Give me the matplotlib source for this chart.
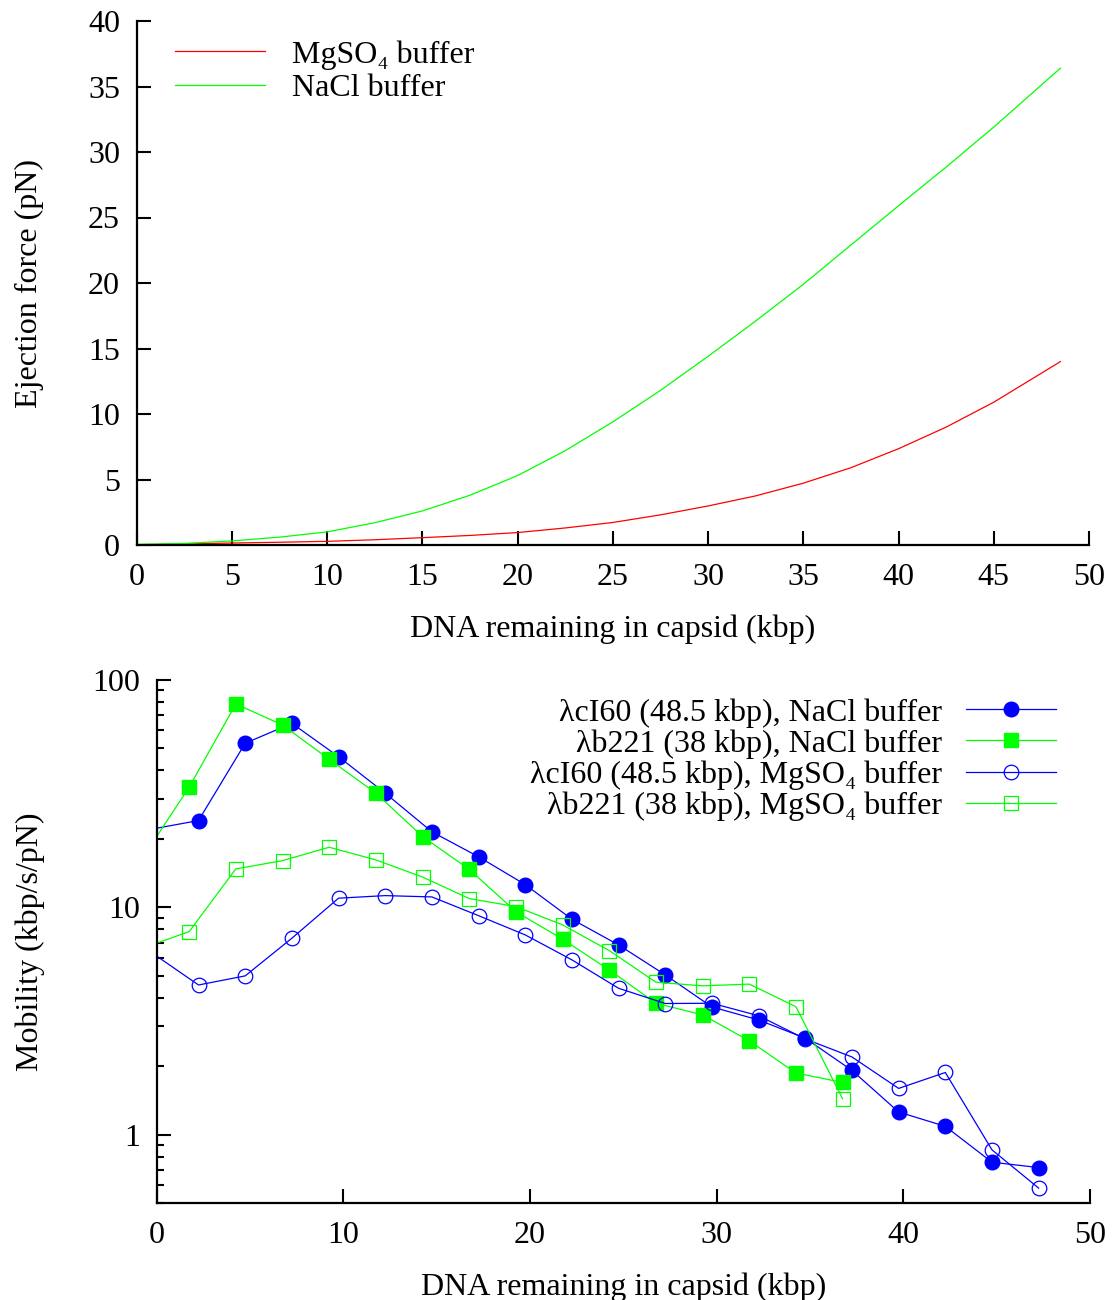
import matplotlib
matplotlib.use("Agg")
import matplotlib.pyplot as plt
import numpy as np
from matplotlib.ticker import LogLocator, FixedLocator, NullFormatter, FuncFormatter

plt.rcParams['font.family'] = ['Liberation Serif', 'DejaVu Serif']

# ---- top panel data: ejection force ----
force_x = [0, 2.5, 5, 7.5, 10, 12.5, 15, 17.5, 20, 22.5, 25, 27.5, 30, 32.5, 35, 37.5, 40, 42.5, 45, 48.5]
force_mgso4 = [0.02, 0.08, 0.15, 0.21, 0.28, 0.40, 0.56, 0.73, 0.95, 1.30, 1.72, 2.30, 2.98, 3.75, 4.72, 5.90, 7.35, 9.00, 10.9, 14.0]
force_nacl = [0.05, 0.12, 0.31, 0.60, 1.00, 1.70, 2.60, 3.80, 5.30, 7.20, 9.40, 11.8, 14.4, 17.1, 19.9, 22.9, 25.9, 28.85, 31.9, 36.4]

# ---- bottom panel data: mobility ----
x_cI60 = [-0.25, 2.25, 4.75, 7.25, 9.75, 12.25, 14.75, 17.25, 19.75, 22.25, 24.75,
          27.25, 29.75, 32.25, 34.75, 37.25, 39.75, 42.25, 44.75, 47.25]
mob_cI60_nacl = [22.1, 24.1, 52.7, 64.5, 46.0, 31.8, 21.5, 16.7, 12.6, 8.87, 6.84,
                 5.05, 3.65, 3.20, 2.66, 1.92, 1.26, 1.09, 0.758, 0.718]
mob_cI60_mgso4 = [6.32, 4.56, 5.00, 7.32, 10.98, 11.27, 11.12, 9.20, 7.57, 5.88, 4.41,
                  3.78, 3.79, 3.34, 2.64, 2.20, 1.60, 1.88, 0.859, 0.583]
x_b221 = [-0.75, 1.75, 4.25, 6.75, 9.25, 11.75, 14.25, 16.75, 19.25, 21.75, 24.25,
          26.75, 29.25, 31.75, 34.25, 36.75]
mob_b221_nacl = [16.5, 33.8, 78.4, 63.4, 44.8, 31.8, 20.5, 14.7, 9.58, 7.25, 5.31,
                 3.79, 3.37, 2.59, 1.87, 1.70]
mob_b221_mgso4 = [6.62, 7.83, 14.77, 16.06, 18.39, 16.18, 13.6, 10.94, 10.08, 8.38, 6.46,
                  4.69, 4.52, 4.60, 3.66, 1.44]

FS = 23
W, H = 1114, 1300
fig = plt.figure(figsize=(W / 100, H / 100), dpi=100)

RED = '#ff0000'
GREEN = '#00ff00'
BLUE = '#0000ff'


def style_axes(ax):
    for s in ('top', 'right'):
        ax.spines[s].set_visible(False)
    for s in ('left', 'bottom'):
        ax.spines[s].set_linewidth(1.6)
    ax.tick_params(which='major', direction='in', length=10, width=1.5,
                   labelsize=FS, pad=12)
    ax.tick_params(axis='x', which='major', pad=13)
    ax.tick_params(which='minor', direction='in', length=5, width=1.5)


# Top panel
ax1 = fig.add_axes([136.7 / W, 1 - 545 / H, (1089 - 136.7) / W, (545 - 21) / H])
ax1.plot(force_x, force_mgso4, color=RED, lw=0.9, label='MgSO\u2084 buffer')
ax1.plot(force_x, force_nacl, color=GREEN, lw=0.9, label='NaCl buffer')
ax1.set_xlim(0, 50)
ax1.set_ylim(0, 40)
ax1.set_xticks(np.arange(0, 51, 5))
ax1.set_yticks(np.arange(0, 41, 5))
style_axes(ax1)
ax1.set_xlabel('DNA remaining in capsid (kbp)', fontsize=FS, labelpad=16)
ax1.set_ylabel('Ejection force (pN)', fontsize=FS, labelpad=32)
ax1.legend(loc='upper left', bbox_to_anchor=(0.027, 0.988), frameon=False,
           fontsize=FS, handlelength=2.8, handletextpad=0.85, labelspacing=0.12,
           borderaxespad=0)

# Bottom panel
ax2 = fig.add_axes([156.5 / W, 1 - 1203.3 / H, (1090 - 156.5) / W, (1203.3 - 680) / H])
vis_c = [i for i, v in enumerate(x_cI60) if v >= 0]
vis_b = [i for i, v in enumerate(x_b221) if v >= 0]
ax2.plot(x_cI60, mob_cI60_nacl, color=BLUE, lw=0.9, marker='o', ms=10.5,
         markevery=vis_c, label='λcI60 (48.5 kbp), NaCl buffer')
ax2.plot(x_b221, mob_b221_nacl, color=GREEN, lw=0.9, marker='s', ms=10,
         markevery=vis_b, label='λb221 (38 kbp), NaCl buffer')
ax2.plot(x_cI60, mob_cI60_mgso4, color=BLUE, lw=0.9, marker='o', ms=10.5, mfc='none',
         mew=0.9, markevery=vis_c, label='λcI60 (48.5 kbp), MgSO\u2084 buffer')
ax2.plot(x_b221, mob_b221_mgso4, color=GREEN, lw=0.9, marker='s', ms=10, mfc='none',
         mew=0.9, markevery=vis_b, label='λb221 (38 kbp), MgSO\u2084 buffer')
ax2.set_yscale('log')
ax2.set_xlim(0, 50)
ax2.set_ylim(0.5, 100)
ax2.set_xticks(np.arange(0, 51, 10))
ax2.yaxis.set_major_locator(FixedLocator([1, 10, 100]))
ax2.yaxis.set_major_formatter(FuncFormatter(lambda v, p: '%g' % v))
ax2.yaxis.set_minor_locator(LogLocator(base=10, subs=np.arange(2, 10)))
ax2.yaxis.set_minor_formatter(NullFormatter())
style_axes(ax2)
ax2.set_xlabel('DNA remaining in capsid (kbp)', fontsize=FS, labelpad=16)
ax2.set_ylabel('Mobility (kbp/s/pN)', fontsize=FS, labelpad=34)
ax2.legend(loc='upper right', bbox_to_anchor=(0.977, 0.99), frameon=False,
           fontsize=FS, markerfirst=False, handlelength=2.8, handletextpad=0.75,
           labelspacing=0.05, borderaxespad=0)

fig.savefig('out.png', dpi=100)
